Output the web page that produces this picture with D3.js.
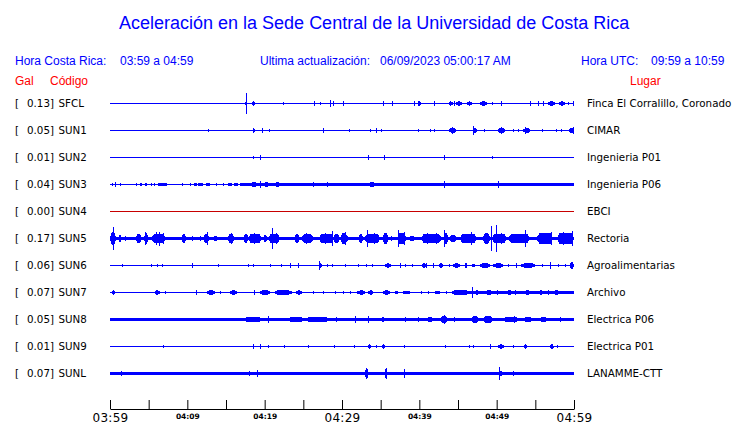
<!DOCTYPE html>
<html>
<head>
<meta charset="utf-8">
<script src="https://cdn.jsdelivr.net/npm/d3@7"></script>
<style>
  html, body { margin: 0; padding: 0; background: #fff; }
  svg { display: block; }
</style>
</head>
<body>
<script>
// ---- Data (minutes after 03:59, amplitudes in mGal) ----
const codes   = ["SFCL","SUN1","SUN2","SUN3","SUN4","SUN5","SUN6","SUN7","SUN8","SUN9","SUNL"];
const peakGal = ["0.13","0.05","0.01","0.04","0.00","0.17","0.06","0.07","0.05","0.01","0.07"];
const places  = ["Finca El Corralillo, Coronado","CIMAR","Ingenieria P01","Ingenieria P06","EBCI","Rectoria","Agroalimentarias","Archivo","Electrica P06","Electrica P01","LANAMME-CTT"];
const tickMinutes = [0,5,10,15,20,25,30,35,40,45,50,55,60];
const tickLabels  = {0:"03:59",10:"04:09",20:"04:19",30:"04:29",40:"04:39",50:"04:49",60:"04:59"};
const majorTicks  = [0,30,60];

// background noise level per station: [startMin, endMin, halfAmplitude mGal]
const noiseSFCL = [], noiseSUN1 = [], noiseSUN2 = [], noiseSUN4 = [], noiseSUN6 = [], noiseSUN9 = [];
const noiseSUN3 = [[17.6,33,12],[33,43.2,14],[43.2,60,18]];
const noiseSUN5 = [[0,60,18]];
const noiseSUN7 = [[46.5,60,11]];
const noiseSUN8 = [[0,60,19]];
const noiseSUNL = [[0,60,19]];

// bursts / spikes: [startMin, endMin, halfAmplitude mGal]
const SFCL = [[17.5,17.75,26],[17.62,17.72,130],[18.3,18.75,20],[22.4,22.5,13],[26.4,26.5,20],[27.2,27.3,13],[28.4,28.5,45],[28.85,28.95,20],[30.15,30.25,20],[35.3,35.4,20],[36.5,36.6,20],[39.25,39.4,32],[39.8,40.2,26],[41.85,42.05,20],[43.8,44.3,20],[44.45,44.55,20],[44.8,45.5,20],[46.2,46.75,20],[47.9,48.7,20],[49.45,49.55,13],[50.55,50.75,20],[54.3,54.4,20],[55.35,55.45,20],[56.0,56.1,20],[56.6,57.6,20],[58.1,58.8,20],[59.25,59.35,13],[59.85,59.95,20]];
const SUN1 = [[12.7,12.8,13],[18.45,18.7,20],[19.65,19.85,20],[20.5,20.6,9],[27.55,27.75,20],[30.9,31.0,13],[33.6,33.7,9],[34.45,34.65,20],[35.1,35.2,13],[39.85,39.95,13],[41.35,41.45,13],[41.95,42.05,13],[43.9,44.75,32],[44.2,44.3,45],[46.95,47.05,52],[47.0,47.45,26],[48.3,48.4,13],[50.2,51.05,32],[50.6,50.7,45],[52.1,52.2,13],[52.75,52.85,13],[53.45,54.3,26],[53.6,53.7,39],[55.8,55.9,13],[57.7,57.8,13],[58.35,58.45,13],[59.4,60,32],[59.85,59.95,45]];
const SUN2 = [[18.55,18.65,13],[19.35,19.5,20],[33.4,33.55,20],[35.4,35.5,20],[43.2,43.3,26],[49.4,49.5,13]];
const SUN3 = [[0.2,0.3,13],[0.7,0.9,20],[1.25,1.35,13],[3.4,3.6,13],[3.9,4.2,13],[4.5,4.8,13],[5.35,5.45,13],[5.75,5.9,13],[6.2,7.35,13],[9.35,9.5,13],[10.3,10.5,13],[10.8,11.2,13],[11.4,12.0,13],[12.4,12.9,13],[13.75,13.85,13],[14.6,14.7,13],[15.3,15.8,13],[16.0,16.5,13],[16.8,17.6,13],[18.2,19.0,26],[19.35,19.45,39],[19.9,20.6,26],[21.3,22.0,20],[26.2,26.35,20],[28.0,28.1,20],[33.5,34.3,26],[43.2,43.3,39],[50.15,50.25,45]];
const SUN4 = [];
const SUN5 = [[0,0.8,78],[0.38,0.48,143],[1.05,1.5,39],[1.9,2.0,26],[3.35,4.1,52],[4.4,4.95,60],[4.55,4.65,78],[5.4,7.2,58],[5.9,6.0,72],[6.3,6.4,85],[6.9,7.0,70],[9.25,9.85,52],[10.6,10.7,26],[11.6,11.7,26],[12.05,12.85,58],[12.5,12.6,72],[13.3,14.0,26],[15.2,16.05,58],[15.6,15.7,66],[17.25,17.9,50],[17.9,19.6,58],[18.6,18.7,70],[19.8,20.3,39],[20.5,22.0,58],[20.95,21.05,130],[21.5,21.6,70],[23.85,24.55,50],[24.8,26.3,58],[25.3,25.4,70],[27.05,28.9,58],[27.8,27.9,66],[28.7,28.8,91],[28.9,29.7,58],[29.75,30.8,60],[30.4,30.5,78],[32.1,32.75,50],[32.95,34.9,58],[33.25,33.35,104],[34.2,34.3,66],[35.25,36.0,60],[36.2,36.6,26],[37.15,38.35,66],[37.3,37.4,104],[38.0,38.1,78],[38.6,39.5,26],[40.25,42.85,58],[41.0,41.1,70],[42.2,42.3,66],[43.1,43.75,70],[43.25,43.35,104],[43.9,44.8,39],[45.25,47.4,58],[46.7,46.8,78],[48.2,49.15,70],[49.25,49.35,156],[49.4,51.3,58],[49.88,49.98,169],[50.6,50.7,70],[51.5,54.3,50],[53.6,53.7,104],[55.2,57.3,60],[56.0,56.1,70],[57.05,57.15,78],[57.8,60,60],[58.6,58.7,72],[59.75,59.85,91]];
const SUN6 = [[1.55,1.65,9],[5.35,5.45,13],[6.1,6.2,13],[6.75,6.85,13],[10.6,10.8,32],[13.95,14.05,9],[17.9,18.05,13],[18.5,18.6,13],[20.65,20.75,9],[22.15,22.25,13],[23.3,23.5,26],[24.3,24.4,20],[27.0,27.1,52],[27.05,27.35,26],[28.1,28.2,13],[28.7,28.8,9],[30.4,30.5,13],[32.05,32.15,13],[33.15,33.25,13],[33.9,34.0,13],[35.55,36.3,20],[37.45,37.55,20],[38.1,38.2,13],[39.05,39.15,9],[40.3,40.95,20],[40.85,40.95,32],[41.75,41.85,20],[42.55,43.0,20],[43.8,43.9,13],[44.4,45.25,20],[45.9,46.1,20],[46.0,46.1,26],[46.75,47.2,13],[47.85,49.15,20],[48.3,48.4,32],[49.55,50.85,20],[51.45,51.55,13],[52.45,52.55,32],[53.2,54.95,20],[55.8,55.9,9],[56.95,57.05,39],[57.95,58.05,9],[58.8,58.9,9],[59.45,60,38]];
const SUN7 = [[0.2,0.65,20],[5.8,6.45,20],[6.0,6.1,26],[7.1,7.2,9],[11.15,11.3,20],[12.5,13.6,20],[14.2,14.3,9],[15.5,16.4,20],[18.6,18.7,20],[19.4,20.7,20],[19.9,20.0,26],[21.3,23.5,20],[24.1,24.8,20],[26.25,26.35,13],[27.55,27.65,9],[29.05,29.15,9],[30.15,30.25,9],[31.0,31.1,13],[32.0,33.0,20],[33.4,34.05,20],[33.7,33.8,26],[35.3,36.2,20],[36.85,37.3,13],[37.9,38.8,13],[40.25,40.35,9],[41.1,41.2,9],[42.0,42.7,9],[43.5,43.6,9],[44.2,46.5,20],[46.75,46.85,65],[47.2,47.8,20],[48.5,49.5,20],[50.0,50.3,20],[51.3,52.0,20],[52.4,52.6,26],[53.5,54.4,20],[55.4,56.0,20],[56.6,56.7,20],[57.2,58.2,20]];
const SUN8 = [[17.45,19.6,30],[20.4,20.55,39],[23.05,25.0,30],[25.4,28.2,30],[29.25,29.35,32],[31.65,31.75,45],[33.35,33.5,39],[35.1,35.55,30],[38.1,38.2,32],[39.85,39.95,26],[40.95,41.8,30],[42.65,43.75,36],[43.25,43.35,52],[44.45,44.55,32],[46.75,47.65,36],[48.25,49.55,40],[50.95,52.8,30],[52.3,52.5,39],[53.5,54.6,26],[55.6,56.5,30],[58.2,58.3,32]];
const SUN9 = [[6.85,6.95,9],[18.5,18.65,20],[19.35,19.45,20],[20.45,20.55,13],[22.5,22.6,9],[25.6,25.7,9],[28.95,29.05,13],[31.55,31.65,13],[33.4,33.7,20],[34.45,34.55,9],[35.2,35.6,20],[38.0,38.1,13],[43.3,43.4,13],[46.45,46.55,9],[46.95,47.05,13],[49.15,49.3,20],[50.2,50.9,20],[52.05,52.15,13],[53.5,53.9,20],[56.95,57.35,20],[57.85,57.95,9]];
const SUNL = [[1.45,1.6,30],[17.95,18.1,26],[19.0,19.1,39],[32.95,33.45,52],[33.15,33.25,65],[35.5,35.9,52],[35.75,35.85,65],[38.0,38.1,52],[50.25,50.35,78],[50.3,50.7,32],[52.1,52.2,26]];

const noises = [noiseSFCL,noiseSUN1,noiseSUN2,noiseSUN3,noiseSUN4,noiseSUN5,noiseSUN6,noiseSUN7,noiseSUN8,noiseSUN9,noiseSUNL];
const bursts = [SFCL,SUN1,SUN2,SUN3,SUN4,SUN5,SUN6,SUN7,SUN8,SUN9,SUNL];
const traceColors = ["#0000ff","#0000ff","#0000ff","#0000ff","#c80000","#0000ff","#0000ff","#0000ff","#0000ff","#0000ff","#0000ff"];

// ---- Drawing ----
const W = 740, H = 423;
const svg = d3.select("body").append("svg").attr("width", W).attr("height", H);

const x = d3.scaleLinear().domain([0, 60]).range([110, 574]);
const row = d3.scalePoint().domain(codes).range([103, 373]);
const amp = d3.scaleLinear().domain([0, 170]).range([0, 13]);

const SANS = "'Liberation Sans', Arial, sans-serif";
const DJ = "'DejaVu Sans', sans-serif";

svg.append("text").attr("x", 119).attr("y", 29)
  .attr("font-family", SANS).attr("font-size", 18).attr("fill", "#0000ff")
  .text("Aceleración en la Sede Central de la Universidad de Costa Rica");

const hdr = [
  [15, 65, "Hora Costa Rica:", "#0000ff"],
  [120, 65, "03:59 a 04:59", "#0000ff"],
  [260, 65, "Ultima actualización:", "#0000ff"],
  [380, 65, "06/09/2023 05:00:17 AM", "#0000ff"],
  [581, 65, "Hora UTC:", "#0000ff"],
  [651, 65, "09:59 a 10:59", "#0000ff"],
  [15, 85, "Gal", "#ff0000"],
  [50, 85, "Código", "#ff0000"],
  [630, 85, "Lugar", "#ff0000"]
];
svg.selectAll("text.hdr").data(hdr).join("text").attr("class", "hdr")
  .attr("x", d => d[0]).attr("y", d => d[1])
  .attr("font-family", SANS).attr("font-size", 12).attr("fill", d => d[3])
  .text(d => d[2]);

const rows = svg.selectAll("g.row").data(codes).join("g").attr("class", "row")
  .attr("transform", d => `translate(0,${row(d)})`);

rows.append("text").attr("x", 15).attr("y", 4.3).attr("font-family", DJ).attr("font-size", 10.3).text("[");
rows.append("text").attr("x", 27).attr("y", 4.3).attr("font-family", DJ).attr("font-size", 10.3).text((d, i) => peakGal[i] + "]");
rows.append("text").attr("x", 58.5).attr("y", 4.3).attr("font-family", DJ).attr("font-size", 10.3).text(d => d);
rows.append("text").attr("x", 587).attr("y", 4.3).attr("font-family", DJ).attr("font-size", 10.3).text((d, i) => places[i]);

// burst envelope shape (tapered at both ends)
const env = d3.area().x(p => p[0]).y0(p => p[1] + 1).y1(p => -p[1]);
function burstShape(d) {
  const x0 = x(d[0]), x1 = x(d[1]), a = amp(d[2]);
  const w = x1 - x0;
  if (w <= 1.6) {
    return env([[x0, a], [x0 + 1, a]]);
  }
  const t = Math.min(w * 0.3, 2.5);
  return env([[x0, 0.5], [x0 + t, a], [x1 - t, a], [x1, 0.5]]);
}

rows.each(function(code, i) {
  const g = d3.select(this).append("g").attr("shape-rendering", "crispEdges").attr("fill", traceColors[i]);
  g.append("rect").attr("x", x(0)).attr("y", 0).attr("width", x(60) - x(0)).attr("height", 1);
  g.selectAll("rect.noise").data(noises[i]).join("rect").attr("class", "noise")
    .attr("x", d => x(d[0]))
    .attr("width", d => x(d[1]) - x(d[0]))
    .attr("y", d => -amp(d[2]))
    .attr("height", d => 2 * amp(d[2]) + 1);
  g.selectAll("path.burst").data(bursts[i]).join("path").attr("class", "burst")
    .attr("d", burstShape);
});

const axis = d3.axisBottom(x).tickValues(tickMinutes).tickSize(-9).tickSizeOuter(0)
  .tickFormat(d => tickLabels[d] || "");
const ax = svg.append("g").attr("transform", "translate(0,409)").call(axis);
ax.select(".domain").attr("stroke", "#000");
ax.selectAll(".tick line").attr("stroke", "#000");
ax.selectAll(".tick text")
  .attr("fill", "#000")
  .attr("dy", 0)
  .attr("font-family", DJ)
  .attr("y", d => majorTicks.includes(d) ? 12.5 : 9.5)
  .attr("font-size", d => majorTicks.includes(d) ? 12 : 7.5)
  .attr("font-weight", d => majorTicks.includes(d) ? "normal" : "bold")
  .attr("letter-spacing", d => majorTicks.includes(d) ? 0.3 : 0);
</script>
</body>
</html>
